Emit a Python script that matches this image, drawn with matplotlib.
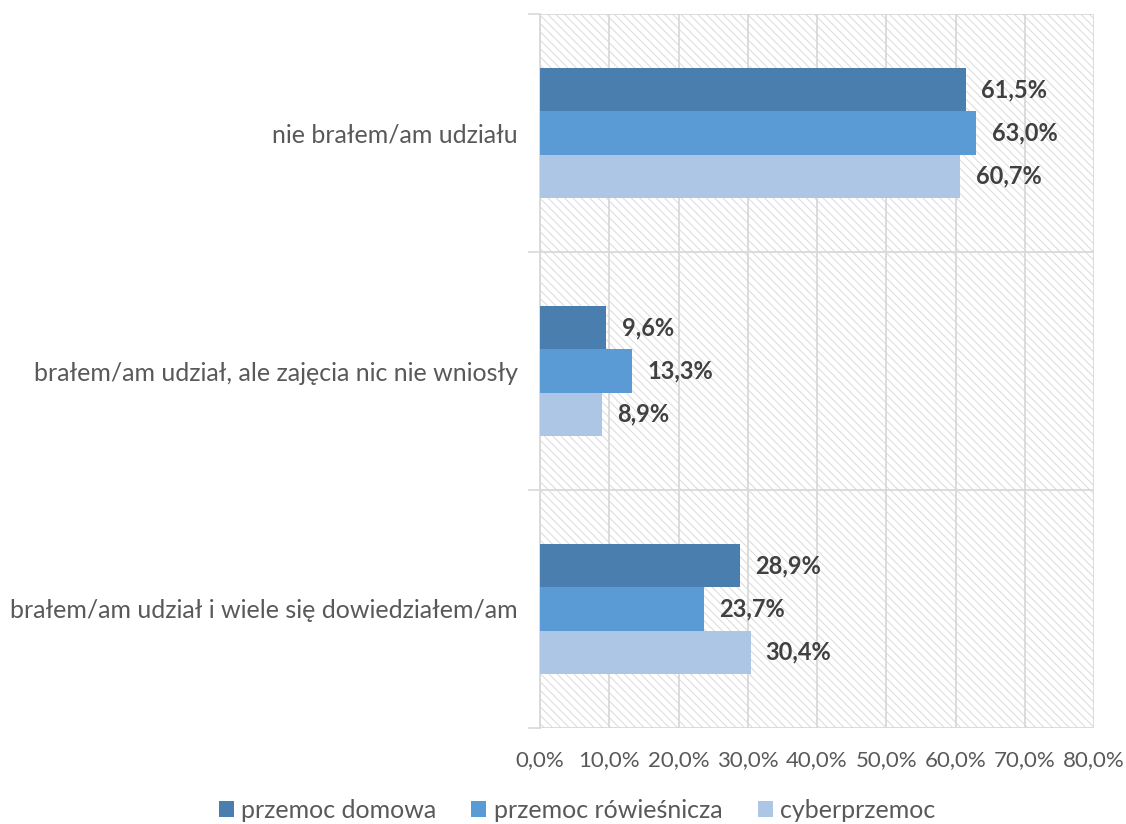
import matplotlib
matplotlib.use("Agg")
import matplotlib.pyplot as plt
from matplotlib.patches import Rectangle, Patch
import numpy as np

categories = ["nie brałem/am udziału",
              "brałem/am udział, ale zajęcia nic nie wniosły",
              "brałem/am udział i wiele się dowiedziałem/am"]
series_names = ["przemoc domowa", "przemoc rówieśnicza", "cyberprzemoc"]
przemoc_domowa = [61.5, 9.6, 28.9]
przemoc_rowiesnicza = [63.0, 13.3, 23.7]
cyberprzemoc = [60.7, 8.9, 30.4]
x_ticks = [0, 10, 20, 30, 40, 50, 60, 70, 80]

colors = ["#4A7EAF", "#5B9BD5", "#ADC6E5"]
text_col = "#595959"
grid_col = "#D9D9D9"
hatch_col = "#DADADA"

plt.rcParams['font.family'] = ['Lato', 'DejaVu Sans']
plt.rcParams['hatch.color'] = hatch_col
plt.rcParams['hatch.linewidth'] = 0.7

fig = plt.figure(figsize=(11.26, 8.24), dpi=100)
ax = fig.add_axes([540/1126, 1-728/824, (1094-540)/1126, (728-14)/824])

# hatched background
bg = Rectangle((0, 0), 1, 1, transform=ax.transAxes, facecolor='white',
               edgecolor=hatch_col, linewidth=0, hatch='\\\\\\\\', zorder=0.5)
ax.add_patch(bg)
ax.set_facecolor('white')

y = np.arange(len(categories))
h = 0.181
all_series = [przemoc_domowa, przemoc_rowiesnicza, cyberprzemoc]
for i, (vals, name, c) in enumerate(zip(all_series, series_names, colors)):
    pos = y + (i - 1) * h
    ax.barh(pos, vals, height=h, color=c, label=name, zorder=3)
    for p, v in zip(pos, vals):
        ax.text(v + 2.2, p, f"{v:.1f}%".replace('.', ','), va='center', ha='left',
                fontsize=17, fontweight='bold', color='#404040', zorder=4)

ax.set_xlim(0, 80)
ax.set_ylim(2.5, -0.5)
ax.set_xticks(x_ticks)
ax.set_xticklabels([f"{t:.1f}%".replace('.', ',') for t in x_ticks],
                   fontsize=16, color=text_col)
ax.set_yticks(y)
ax.set_yticklabels(categories, fontsize=18, color=text_col)
ax.set_yticks([-0.5, 0.5, 1.5, 2.5], minor=True)
ax.tick_params(axis='y', which='major', length=0, pad=16)
ax.tick_params(axis='y', which='minor', length=9, width=1.2, color=grid_col)
ax.tick_params(axis='x', which='major', length=0, pad=16)

ax.grid(axis='x', which='major', color=grid_col, linewidth=1.3, zorder=1)
ax.grid(axis='y', which='minor', color=grid_col, linewidth=1.3, zorder=1)
ax.set_axisbelow(True)
for s in ['top', 'right', 'bottom']:
    ax.spines[s].set_visible(False)
ax.spines['left'].set_color(grid_col)
ax.spines['left'].set_linewidth(1.3)

handles = [Patch(facecolor=c, edgecolor='none') for c in colors]
fig.legend(handles, series_names, loc='center', bbox_to_anchor=(577/1126, 1-810/824),
           ncol=3, frameon=False, fontsize=18, labelcolor=text_col,
           handlelength=0.6, handleheight=0.6, handletextpad=0.3, columnspacing=1.4)

fig.savefig("out.png", dpi=100)
